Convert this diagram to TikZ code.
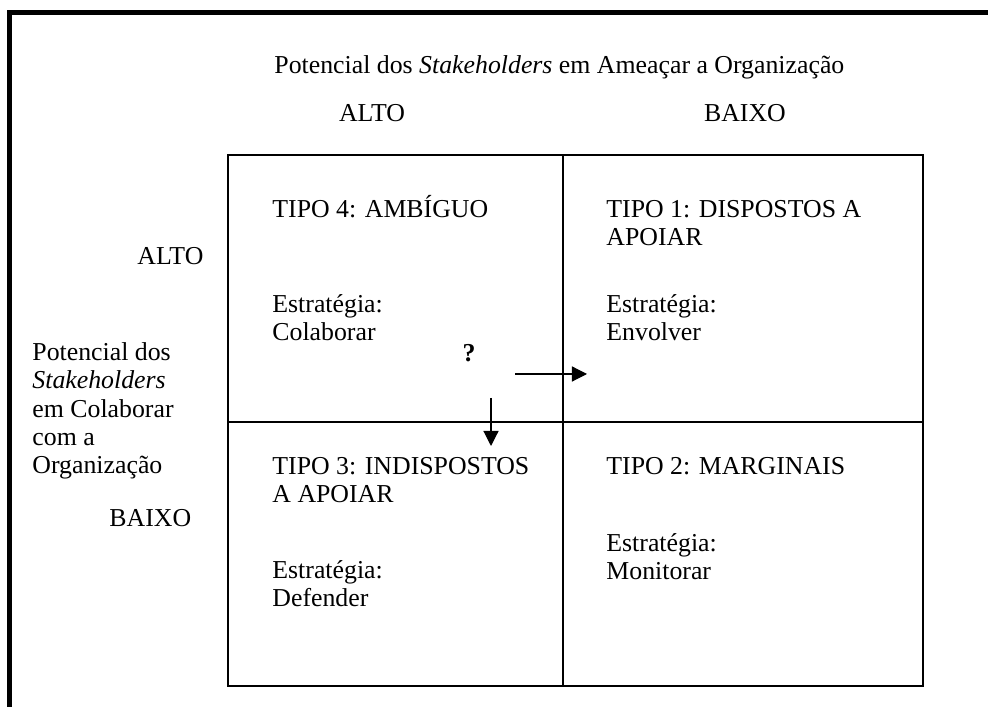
\documentclass[tikz,border=0pt]{standalone}
\usepackage{fontspec}
\setmainfont{Liberation Serif}
\usetikzlibrary{positioning,arrows.meta}
\tikzset{
txt/.style={
inner sep=0pt,
anchor=base west,
align=left,
font=\fontsize{12pt}{13.2pt}\selectfont
},
hdr/.style={
inner sep=0pt,
anchor=base,
font=\fontsize{12pt}{13.2pt}\selectfont
},
frame/.style={
line width=1.9pt
},
grid/.style={
line width=0.7pt
},
arrow/.style={
-{Triangle[length=7pt,width=7pt]},
line width=0.55pt
}
}

\begin{document}
\begin{tikzpicture}[x=0.465pt,y=-0.465pt]
\useasboundingbox (0,0) rectangle (988,707);
% frame (top and left only)
\draw[frame](9.5,707)--(9.5,12.5)--(988,12.5);

% titles (multi-line nodes sit on their last baseline)
\node[txt](title) at (274,74){Potencial dos \textit{Stakeholders} em Ameaçar a Organização};
\node[hdr](hialto) at (372,122){ALTO};
\node[hdr](hibaixo) at (745,122){BAIXO};
\node[txt](valto) at (137,265){ALTO};
\node[txt](vbaixo) at (109,527){BAIXO};
\node[txt](vtitle) at (32,474){Potencial dos\\\textit{Stakeholders}\\em Colaborar\\com a\\Organização};

% matrix
\draw[grid](228,155) rectangle (923,686);
\draw[grid](563,155)--(563,686);
\draw[grid](228,422)--(923,422);

% quadrants
\node[txt](t4) at (272,218){TIPO 4: AMBÍGUO};
\node[txt](s4) at (272,341){Estratégia:\\Colaborar};
\node[txt](t1) at (606,246){TIPO 1: DISPOSTOS A\\APOIAR};
\node[txt](s1) at (606,341){Estratégia:\\Envolver};
\node[txt](t3) at (272,503){TIPO 3: INDISPOSTOS\\A APOIAR};
\node[txt](s3) at (272,607){Estratégia:\\Defender};
\node[txt](t2) at (606,475){TIPO 2: MARGINAIS};
\node[txt](s2) at (606,580){Estratégia:\\Monitorar};

% question and arrows
\node[hdr,font=\fontsize{12pt}{13.2pt}\selectfont\bfseries](q) at (469,362){?};
\coordinate (ha) at (515,374);
\coordinate (hb) at (587,374);
\coordinate (va) at (491,398);
\coordinate (vb) at (491,446);
\foreach \x/\y in {ha/hb,va/vb}
\draw[arrow](\x)--(\y);
\end{tikzpicture}
\end{document}
